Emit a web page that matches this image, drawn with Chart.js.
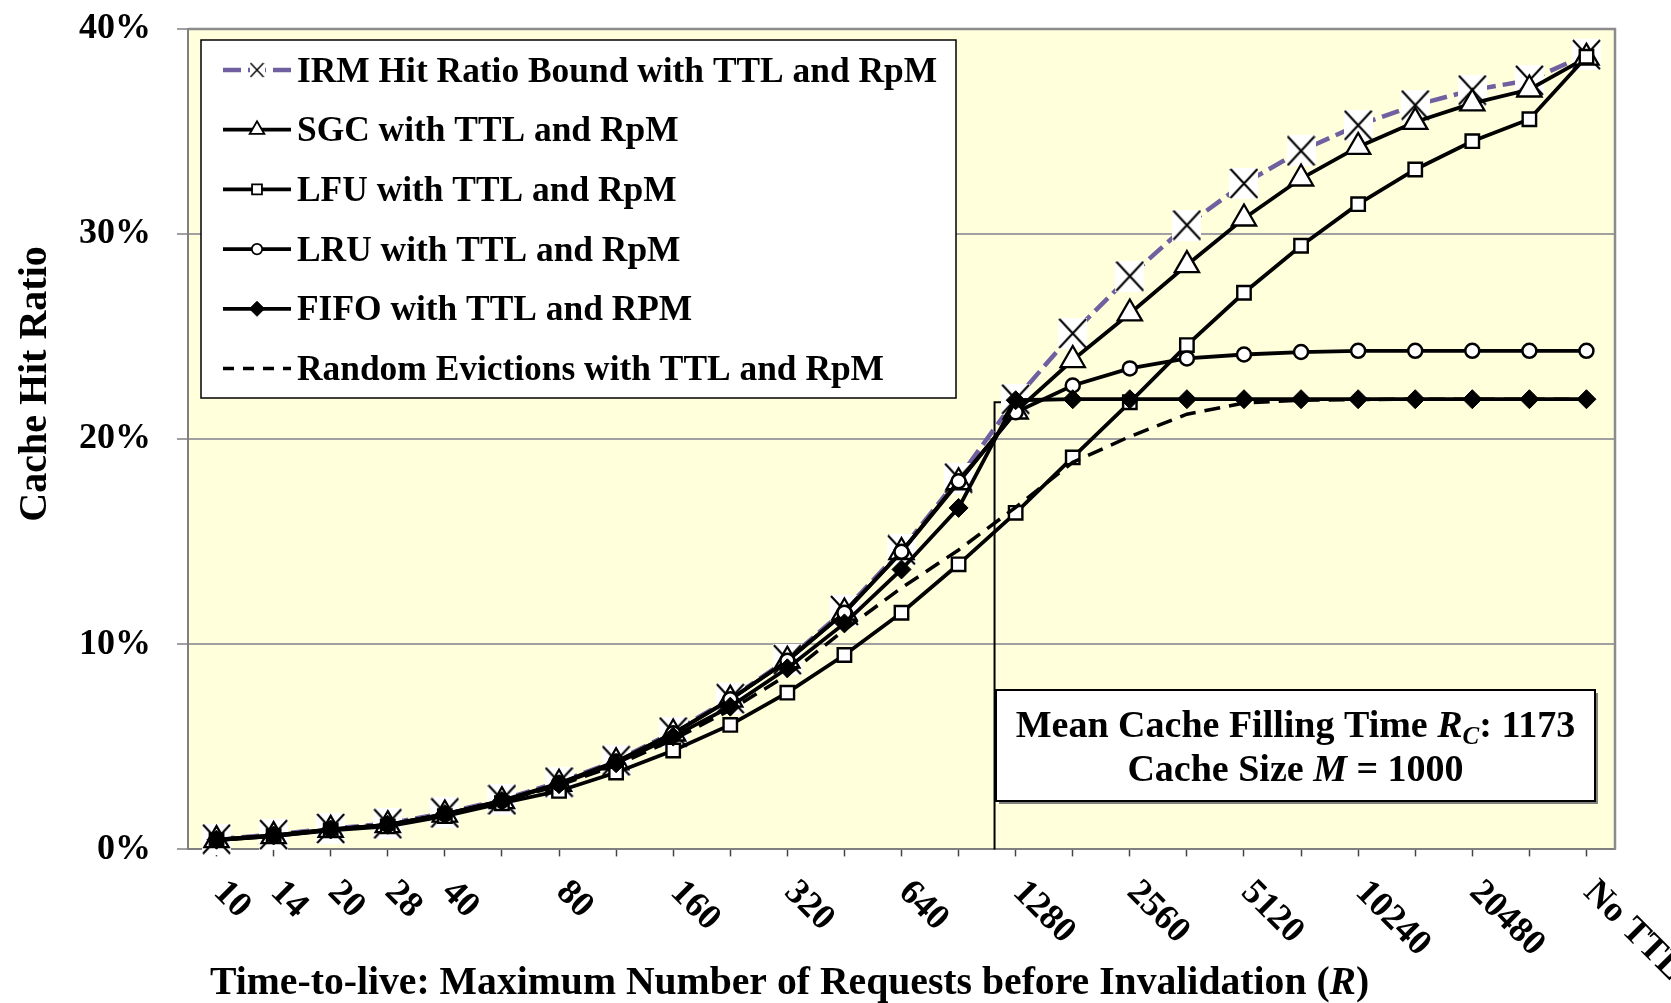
<!DOCTYPE html>
<html>
<head>
<meta charset="utf-8">
<script src="https://cdn.jsdelivr.net/npm/chart.js@4.4.1/dist/chart.umd.min.js"></script>
<style>
  html, body { margin: 0; padding: 0; background: #ffffff; }
  #wrap { width: 1671px; height: 1003px; position: relative; }
</style>
</head>
<body>
<div id="wrap"><canvas id="c" width="1671" height="1003"></canvas></div>
<script>
// ---------------- data ----------------
const categories = ["10","14","20","28","40","56","80","113","160","226","320","453","640","905","1280","1810","2560","3620","5120","7241","10240","14482","20480","28963","No TTL"];
const tickLabels = ["10","14","20","28","40","","80","","160","","320","","640","","1280","","2560","","5120","","10240","","20480","","No TTL"];
const yTickValues = [0, 10, 20, 30, 40];

const irmBound = [0.50,0.72,1.02,1.25,1.78,2.42,3.28,4.32,5.72,7.35,9.25,11.65,14.60,18.10,21.95,25.16,27.95,30.44,32.47,34.06,35.31,36.29,37.02,37.50,38.75];
const sgc      = [0.45,0.65,0.95,1.18,1.70,2.35,3.20,4.25,5.65,7.30,9.20,11.55,14.50,17.90,21.35,23.86,26.13,28.49,30.76,32.71,34.25,35.47,36.37,37.05,38.60];
const lfu      = [0.45,0.65,0.93,1.12,1.62,2.25,2.85,3.75,4.82,6.07,7.64,9.48,11.54,13.90,16.41,19.11,21.80,24.59,27.14,29.43,31.46,33.15,34.53,35.60,38.65];
const lru      = [0.47,0.68,0.97,1.20,1.72,2.38,3.22,4.28,5.66,7.32,9.20,11.54,14.51,17.95,21.31,22.62,23.45,23.94,24.13,24.25,24.31,24.31,24.31,24.31,24.31];
const fifo     = [0.47,0.68,0.97,1.20,1.72,2.36,3.18,4.20,5.50,6.96,8.83,11.02,13.65,16.65,21.90,21.95,21.95,21.95,21.95,21.95,21.95,21.95,21.95,21.95,21.95];
const randomEv = [0.47,0.68,0.97,1.20,1.72,2.35,3.12,4.10,5.35,6.80,8.50,10.70,12.75,14.60,16.68,18.87,20.13,21.22,21.76,21.90,21.93,21.95,21.95,21.95,21.95];

// Mean cache filling time R_C = 1173 marker (position on category axis)
const rcLine = [{x: 13.63, y: 0}, {x: 13.63, y: 21.8}, {x: 14, y: 21.8}];

const seriesLabels = [
  "IRM Hit Ratio Bound with TTL and RpM",
  "SGC with TTL and RpM",
  "LFU with TTL and RpM",
  "LRU with TTL and RpM",
  "FIFO with TTL and RPM",
  "Random Evictions with TTL and RpM"
];

// ---------------- styles ----------------
const FONT = '"Liberation Serif", "Times New Roman", serif';
const PURPLE = '#71609f';
const PLOT_BG = '#ffffdc';
const LINE_W = 3.8;

function makeXMarker(w, h, lw) {
  const c = document.createElement('canvas');
  c.width = w; c.height = h;
  const g = c.getContext('2d');
  g.fillStyle = '#ffffff';
  g.fillRect(0, 0, w, h);
  g.strokeStyle = '#000000';
  g.lineWidth = lw;
  g.beginPath();
  g.moveTo(1, 1); g.lineTo(w - 1, h - 1);
  g.moveTo(w - 1, 1); g.lineTo(1, h - 1);
  g.stroke();
  return c;
}
const xMarkerBig = makeXMarker(29, 31, 2.1);
const xMarkerSmall = makeXMarker(15, 16, 1.4);

const common = { tension: 0, clip: false, fill: false };

const datasets = [
  Object.assign({}, common, {
    label: seriesLabels[0], data: irmBound, order: 6,
    borderColor: PURPLE, borderWidth: 4.5, borderDash: [18, 7],
    pointStyle: xMarkerBig, pointRadius: 15,
    legendMarker: xMarkerSmall
  }),
  Object.assign({}, common, {
    label: seriesLabels[1], data: sgc, order: 5,
    borderColor: '#000', borderWidth: LINE_W,
    pointStyle: 'triangle', pointRadius: 14, pointBackgroundColor: '#fff', pointBorderColor: '#000', pointBorderWidth: 2.3,
    legendMarker: 'triangle', legendRadius: 8.5, legendBorder: 1.8
  }),
  Object.assign({}, common, {
    label: seriesLabels[2], data: lfu, order: 4,
    borderColor: '#000', borderWidth: LINE_W,
    pointStyle: 'rect', pointRadius: 9.5, pointBackgroundColor: '#fff', pointBorderColor: '#000', pointBorderWidth: 2.4,
    legendMarker: 'rect', legendRadius: 7, legendBorder: 1.8
  }),
  Object.assign({}, common, {
    label: seriesLabels[3], data: lru, order: 3,
    borderColor: '#000', borderWidth: LINE_W,
    pointStyle: 'circle', pointRadius: 7, pointBackgroundColor: '#fff', pointBorderColor: '#000', pointBorderWidth: 2.5,
    legendMarker: 'circle', legendRadius: 5.2, legendBorder: 1.8
  }),
  Object.assign({}, common, {
    label: seriesLabels[4], data: fifo, order: 2,
    borderColor: '#000', borderWidth: LINE_W,
    pointStyle: 'rectRot', pointRadius: 9.5, pointBackgroundColor: '#000', pointBorderColor: '#000', pointBorderWidth: 1,
    legendMarker: 'rectRot', legendRadius: 7.5, legendBorder: 1
  }),
  Object.assign({}, common, {
    label: seriesLabels[5], data: randomEv, order: 1,
    borderColor: '#000', borderWidth: 3.5, borderDash: [16, 9],
    pointRadius: 0, legendDash: [11, 9],
    legendMarker: null
  }),
  Object.assign({}, common, {
    label: 'R_C', data: rcLine, order: 10, xAxisID: 'x2',
    borderColor: '#000', borderWidth: 2, pointRadius: 0, noLegend: true
  })
];

// ---------------- plugins ----------------
const plotBackground = {
  id: 'plotBackground',
  beforeDraw(chart) {
    const { ctx, chartArea: a } = chart;
    ctx.save();
    ctx.fillStyle = PLOT_BG;
    ctx.fillRect(a.left, a.top, a.right - a.left, a.bottom - a.top);
    ctx.restore();
  },
  beforeDatasetsDraw(chart) {
    const { ctx, chartArea: a } = chart;
    ctx.save();
    ctx.strokeStyle = '#8c8c8c';
    ctx.lineWidth = 2.5;
    ctx.beginPath();
    ctx.moveTo(a.left, a.top);
    ctx.lineTo(a.right, a.top);
    ctx.lineTo(a.right, a.bottom);
    ctx.stroke();
    ctx.restore();
  }
};

function drawMarker(ctx, style, x, y, r, fill, stroke, bw) {
  if (style instanceof HTMLCanvasElement) {
    ctx.drawImage(style, x - style.width / 2, y - style.height / 2);
    return;
  }
  ctx.beginPath();
  if (style === 'circle') {
    ctx.arc(x, y, r, 0, Math.PI * 2);
  } else if (style === 'triangle') {
    ctx.moveTo(x, y - r);
    ctx.lineTo(x + r * 0.866, y + r * 0.5);
    ctx.lineTo(x - r * 0.866, y + r * 0.5);
    ctx.closePath();
  } else if (style === 'rect') {
    const s = r * Math.SQRT1_2;
    ctx.rect(x - s, y - s, 2 * s, 2 * s);
  } else if (style === 'rectRot') {
    ctx.moveTo(x - r, y); ctx.lineTo(x, y - r); ctx.lineTo(x + r, y); ctx.lineTo(x, y + r);
    ctx.closePath();
  }
  ctx.fillStyle = fill; ctx.fill();
  ctx.lineWidth = bw; ctx.strokeStyle = stroke; ctx.stroke();
}

function drawRichLine(ctx, parts, cx, baseline) {
  let total = 0;
  parts.forEach(p => { ctx.font = p.font; p.w = ctx.measureText(p.text).width; total += p.w; });
  let x = cx - total / 2;
  parts.forEach(p => {
    ctx.font = p.font;
    ctx.fillText(p.text, x, baseline + (p.dy || 0));
    x += p.w;
  });
}

const decorations = {
  id: 'decorations',
  afterDatasetsDraw(chart) {
    const { ctx, chartArea: a } = chart;
    ctx.save();

    // ---- legend box ----
    const lx = a.left + 13, ly = a.top + 11, lw = 755, lh = 358;
    ctx.fillStyle = '#ffffff';
    ctx.fillRect(lx, ly, lw, lh);
    ctx.strokeStyle = '#000000';
    ctx.lineWidth = 1.5;
    ctx.strokeRect(lx, ly, lw, lh);

    const rowStart = ly + 30, rowStep = 59.7;
    const symL = lx + 22, symR = lx + 90, symC = lx + 56, textX = lx + 96;
    let row = 0;
    chart.data.datasets.forEach(ds => {
      if (ds.noLegend) return;
      const y = rowStart + row * rowStep;
      ctx.save();
      ctx.strokeStyle = ds.borderColor;
      ctx.lineWidth = ds.borderWidth;
      ctx.setLineDash(ds.legendDash || ds.borderDash || []);
      ctx.beginPath();
      ctx.moveTo(symL, y); ctx.lineTo(symR, y);
      ctx.stroke();
      ctx.setLineDash([]);
      if (ds.legendMarker) {
        drawMarker(ctx, ds.legendMarker, symC, y, ds.legendRadius, ds.pointBackgroundColor, ds.pointBorderColor, ds.legendBorder);
      }
      ctx.restore();
      ctx.fillStyle = '#000';
      ctx.font = 'bold 35.4px ' + FONT;
      ctx.textAlign = 'left';
      ctx.textBaseline = 'alphabetic';
      ctx.fillText(ds.label, textX, y + 11.5);
      row++;
    });

    // ---- annotation box ----
    const bx = a.left + 808, by = a.top + 661, bw = 599, bh = 111;
    ctx.fillStyle = '#808080';
    ctx.fillRect(bx + 3, by + 3, bw, bh);
    ctx.fillStyle = '#ffffff';
    ctx.fillRect(bx, by, bw, bh);
    ctx.strokeStyle = '#000';
    ctx.lineWidth = 2;
    ctx.strokeRect(bx, by, bw, bh);

    ctx.fillStyle = '#000';
    ctx.textAlign = 'left';
    ctx.textBaseline = 'alphabetic';
    const f = 'bold 38px ' + FONT, fi = 'italic bold 38px ' + FONT, fs = 'italic bold 25px ' + FONT;
    const cx = bx + bw / 2;
    drawRichLine(ctx, [
      { text: 'Mean Cache Filling Time ', font: f },
      { text: 'R', font: fi },
      { text: 'C', font: fs, dy: 7 },
      { text: ': 1173', font: f }
    ], cx, by + 47);
    drawRichLine(ctx, [
      { text: 'Cache Size ', font: f },
      { text: 'M', font: fi },
      { text: ' = 1000', font: f }
    ], cx, by + 91);

    ctx.restore();
  },
  afterDraw(chart) {
    const { ctx, chartArea: a } = chart;
    const xs = chart.scales.x;
    ctx.save();
    ctx.fillStyle = '#000';

    // ---- rotated x tick labels ----
    ctx.font = 'bold 36px ' + FONT;
    ctx.textAlign = 'left';
    ctx.textBaseline = 'alphabetic';
    tickLabels.forEach((lab, i) => {
      if (!lab) return;
      const x = xs.getPixelForTick(i);
      ctx.save();
      ctx.translate(x - 4, a.bottom + 44);
      ctx.rotate(Math.PI / 4);
      ctx.fillText(lab, 0, 0);
      ctx.restore();
    });

    // ---- x axis title ----
    const tf = 'bold 39.7px ' + FONT;
    let tx = 210;
    const tb = a.bottom + 145;
    ctx.font = tf;
    const t1 = 'Time-to-live: Maximum Number of Requests before Invalidation (';
    ctx.fillText(t1, tx, tb);
    tx += ctx.measureText(t1).width;
    ctx.font = 'italic bold 39.7px ' + FONT;
    ctx.fillText('R', tx, tb);
    tx += ctx.measureText('R').width;
    ctx.font = tf;
    ctx.fillText(')', tx, tb);

    // ---- y axis title ----
    ctx.save();
    ctx.translate(46, 384);
    ctx.rotate(-Math.PI / 2);
    ctx.textAlign = 'center';
    ctx.font = 'bold 40px ' + FONT;
    ctx.fillText('Cache Hit Ratio', 0, 0);
    ctx.restore();

    ctx.restore();
  }
};

// ---------------- chart ----------------
const chart = new Chart(document.getElementById('c').getContext('2d'), {
  type: 'line',
  data: { labels: categories, datasets: datasets },
  options: {
    responsive: false,
    animation: false,
    events: [],
    layout: { padding: { left: 0, right: 56, top: 29, bottom: 0 } },
    plugins: { legend: { display: false }, tooltip: { enabled: false }, title: { display: false } },
    scales: {
      x: {
        type: 'category',
        offset: true,
        grid: { offset: false, drawOnChartArea: false, drawTicks: true, tickLength: 7, tickColor: '#444', tickWidth: 1.5 },
        border: { display: true, color: '#808080', width: 2 },
        ticks: { display: false },
        afterFit(scale) { scale.height = 153.6; scale.paddingLeft = 0; scale.paddingRight = 0; }
      },
      x2: {
        type: 'linear', display: false,
        min: -0.5, max: categories.length - 0.5
      },
      y: {
        type: 'linear',
        min: yTickValues[0], max: yTickValues[yTickValues.length - 1],
        afterBuildTicks(scale) { scale.ticks = yTickValues.map(v => ({ value: v })); },
        ticks: {
          callback: v => v + '%',
          color: '#000',
          font: { family: FONT, size: 36, weight: 'bold' },
          padding: 26
        },
        grid: { color: '#a0a0a0', lineWidth: 2, tickLength: 11, tickColor: '#808080', tickWidth: 1.5 },
        border: { display: true, color: '#808080', width: 2 },
        afterFit(scale) { scale.width = 188; scale.paddingTop = 0; scale.paddingBottom = 0; }
      }
    }
  },
  plugins: [plotBackground, decorations]
});
</script>
</body>
</html>
